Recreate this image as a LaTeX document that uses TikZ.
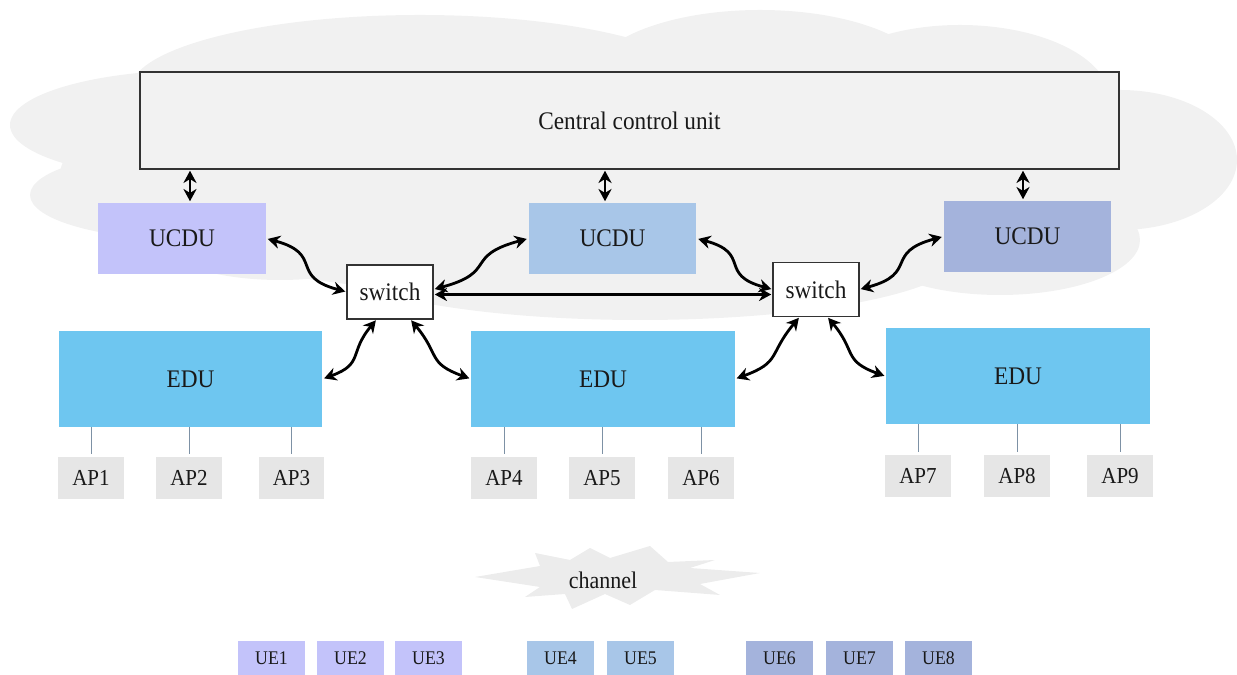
\documentclass[tikz,border=0pt]{standalone}
\usepackage{fontspec}
\usepackage{graphicx}
\setmainfont{Liberation Serif}
\usetikzlibrary{arrows.meta,calc}
\definecolor{cloudc}{RGB}{241,241,241}
\definecolor{ccuc}{RGB}{242,242,242}
\definecolor{ucA}{RGB}{195,195,250}
\definecolor{ucB}{RGB}{168,198,232}
\definecolor{ucC}{RGB}{164,179,220}
\definecolor{educ}{RGB}{110,198,240}
\definecolor{apc}{RGB}{230,230,230}
\definecolor{aplc}{RGB}{125,145,165}
\definecolor{chanc}{RGB}{236,236,236}
\definecolor{txt}{RGB}{25,25,25}
\newcommand{\nt}[1]{\scalebox{0.92}[1]{#1}}
\tikzset{
  box/.style={inner sep=0pt, outer sep=0pt, text=txt},
  lbl/.style={font=\fontsize{14.4}{17}\selectfont},
  ccubox/.style={box, lbl, draw=black!80, line width=0.8pt, fill=ccuc, minimum width=19.58cm, minimum height=1.94cm},
  ucdubox/.style={box, lbl, minimum width=3.36cm, minimum height=1.42cm},
  swbox/.style={box, lbl, draw=black!80, line width=0.8pt, fill=white, minimum width=1.72cm, minimum height=1.08cm},
  edubox/.style={box, lbl, fill=educ, minimum width=5.28cm, minimum height=1.92cm},
  apbox/.style={box, fill=apc, font=\fontsize{13}{15}\selectfont, minimum width=1.32cm, minimum height=0.84cm},
  uebox/.style={box, font=\fontsize{11}{13}\selectfont, minimum width=1.34cm, minimum height=0.68cm},
  arr/.style={line width=1.6pt, {Stealth[length=7pt,width=7.5pt]}-{Stealth[length=7pt,width=7.5pt]}, shorten <=1pt, shorten >=1pt},
  apline/.style={draw=aplc, line width=0.5pt}
}
\begin{document}
\begin{tikzpicture}[x=0.02cm,y=0.02cm]
\useasboundingbox (0,0) rectangle (1237,675);
% cloud
\fill[cloudc]
  (620,500) ellipse [x radius=560, y radius=125]
  (640,420) ellipse [x radius=320, y radius=65]
  (200,550) ellipse [x radius=190, y radius=55]
  (190,480) ellipse [x radius=160, y radius=45]
  (280,435) ellipse [x radius=120, y radius=40]
  (420,585) ellipse [x radius=290, y radius=75]
  (760,595) ellipse [x radius=170, y radius=70]
  (960,575) ellipse [x radius=150, y radius=75]
  (1120,515) ellipse [x radius=117, y radius=70]
  (1000,435) ellipse [x radius=140, y radius=55];
% channel burst
\fill[chanc] (475,98) -- (540,109) -- (535,122) -- (570,115) -- (590,127) -- (610,117) -- (650,129) -- (668,113) -- (715,115) -- (690,107) -- (760,102) -- (700,91) -- (720,80) -- (655,85) -- (630,70) -- (605,81) -- (572,66) -- (565,81) -- (525,78) -- (540,88) -- cycle;
\node[box, font=\fontsize{13.6}{16}\selectfont] (chan) at (603,95) {\nt{channel}};

% nodes
\node[ccubox] (ccu) at (629.5,554.5) {\nt{Central control unit}};
\node[ucdubox, fill=ucA] (u1) at (182,436.5) {\nt{UCDU}};
\node[ucdubox, fill=ucB] (u2) at (612.5,436.5) {\nt{UCDU}};
\node[ucdubox, fill=ucC] (u3) at (1027.5,438.5) {\nt{UCDU}};
\node[swbox] (sw1) at (390,383) {\nt{switch}};
\node[swbox] (sw2) at (816,385.5) {\nt{switch}};
\node[edubox] (edu1) at (190.5,296) {\nt{EDU}};
\node[edubox] (edu2) at (603,296) {\nt{EDU}};
\node[edubox] (edu3) at (1018,298.5) {\nt{EDU}};

\node[apbox] (ap1) at (91,197) {\nt{AP1}};
\node[apbox] (ap2) at (189,197) {\nt{AP2}};
\node[apbox] (ap3) at (291.5,197) {\nt{AP3}};
\node[apbox] (ap4) at (504,197) {\nt{AP4}};
\node[apbox] (ap5) at (602,197) {\nt{AP5}};
\node[apbox] (ap6) at (701,197) {\nt{AP6}};
\node[apbox] (ap7) at (918,199) {\nt{AP7}};
\node[apbox] (ap8) at (1017,199) {\nt{AP8}};
\node[apbox] (ap9) at (1120,199) {\nt{AP9}};

\node[uebox, fill=ucA] (ue1) at (271.5,17) {\nt{UE1}};
\node[uebox, fill=ucA] (ue2) at (350.5,17) {\nt{UE2}};
\node[uebox, fill=ucA] (ue3) at (428.5,17) {\nt{UE3}};
\node[uebox, fill=ucB] (ue4) at (560.5,17) {\nt{UE4}};
\node[uebox, fill=ucB] (ue5) at (640.5,17) {\nt{UE5}};
\node[uebox, fill=ucC] (ue6) at (779.5,17) {\nt{UE6}};
\node[uebox, fill=ucC] (ue7) at (859.5,17) {\nt{UE7}};
\node[uebox, fill=ucC] (ue8) at (938.5,17) {\nt{UE8}};

% AP lines
\foreach \a/\e in {ap1/edu1,ap2/edu1,ap3/edu1,ap4/edu2,ap5/edu2,ap6/edu2,ap7/edu3,ap8/edu3,ap9/edu3}
  \draw[apline] ([yshift=0.06cm]\a.north) -- (\a.north |- \e.south);

% vertical arrows
\draw[arr] ([xshift=0.16cm]u1.north) -- ([xshift=0.16cm]u1.north |- ccu.south);
\draw[arr] ([xshift=-0.15cm]u2.north) -- ([xshift=-0.15cm]u2.north |- ccu.south);
\draw[arr] ([xshift=-0.09cm]u3.north) -- ([xshift=-0.09cm]u3.north |- ccu.south);

% curved arrows upper
\draw[arr] (u1.east) to[out=-15,in=165,looseness=1.6] (sw1.west);
\draw[arr] ([yshift=0.05cm]sw1.east) to[out=15,in=195,looseness=1.6] (u2.west);
\draw[arr] ([yshift=-0.05cm]sw1.east) -- ([yshift=-0.05cm]sw1.east -| sw2.west);
\draw[arr] (u2.east) to[out=-15,in=165,looseness=1.6] (sw2.west);
\draw[arr] (sw2.east) to[out=15,in=195,looseness=1.6] (u3.west);

% curved arrows lower
\draw[arr] ([xshift=-0.26cm]sw1.south) to[out=-130,in=20,looseness=1.4] (edu1.east);
\draw[arr] ([xshift=0.4cm]sw1.south) to[out=-50,in=160,looseness=1.4] (edu2.west);
\draw[arr] ([xshift=-0.32cm]sw2.south) to[out=-130,in=20,looseness=1.4] (edu2.east);
\draw[arr] ([xshift=0.22cm]sw2.south) to[out=-50,in=160,looseness=1.4] (edu3.west);
\end{tikzpicture}
\end{document}
